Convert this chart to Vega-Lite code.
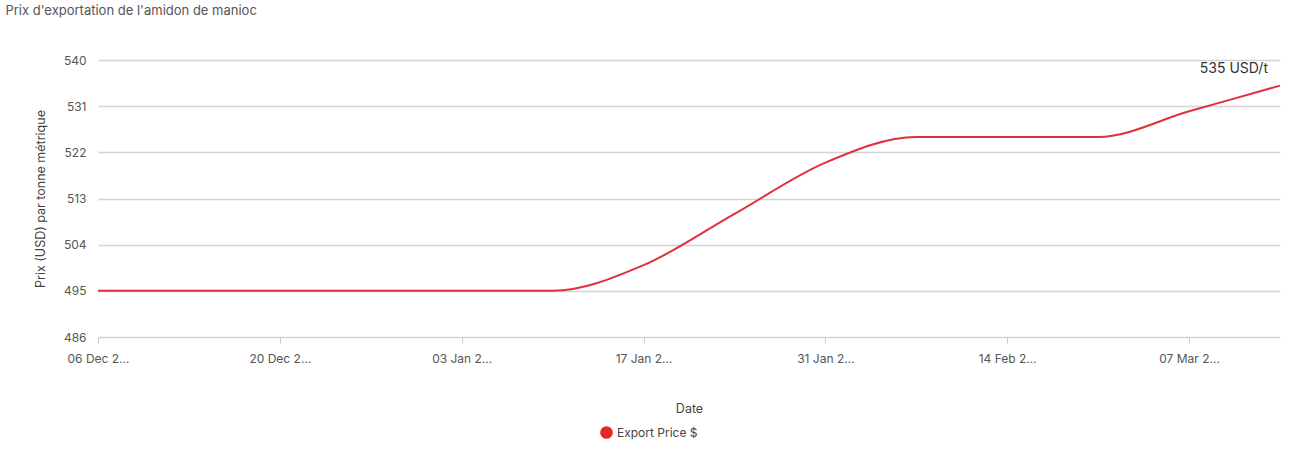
{
  "$schema": "https://vega.github.io/schema/vega-lite/v6.json",
  "width": 1182,
  "height": 277,
  "autosize": {"type": "none"},
  "padding": {"left": 98, "top": 60, "right": 14, "bottom": 135},
  "background": "white",
  "config": {
    "font": "Inter",
    "view": {"stroke": null}
  },
  "title": {
    "text": "Prix d'exportation de l'amidon de manioc",
    "anchor": "start",
    "dx": -29,
    "offset": 36,
    "fontSize": 13,
    "fontWeight": "normal",
    "color": "#555"
  },
  "data": {
    "values": [
      {"date": "06 Dec 2024", "price": 495, "series": "Export Price $"},
      {"date": "13 Dec 2024", "price": 495, "series": "Export Price $"},
      {"date": "20 Dec 2024", "price": 495, "series": "Export Price $"},
      {"date": "27 Dec 2024", "price": 495, "series": "Export Price $"},
      {"date": "03 Jan 2025", "price": 495, "series": "Export Price $"},
      {"date": "10 Jan 2025", "price": 495, "series": "Export Price $"},
      {"date": "17 Jan 2025", "price": 500, "series": "Export Price $"},
      {"date": "24 Jan 2025", "price": 510, "series": "Export Price $"},
      {"date": "31 Jan 2025", "price": 520, "series": "Export Price $"},
      {"date": "07 Feb 2025", "price": 525, "series": "Export Price $"},
      {"date": "14 Feb 2025", "price": 525, "series": "Export Price $"},
      {"date": "28 Feb 2025", "price": 525, "series": "Export Price $"},
      {"date": "07 Mar 2025", "price": 530, "series": "Export Price $"},
      {"date": "14 Mar 2025", "price": 535, "series": "Export Price $"}
    ]
  },
  "encoding": {
    "x": {
      "field": "date",
      "type": "ordinal",
      "sort": null,
      "scale": {"padding": 0},
      "axis": {
        "values": ["06 Dec 2024", "20 Dec 2024", "03 Jan 2025", "17 Jan 2025", "31 Jan 2025", "14 Feb 2025", "07 Mar 2025"],
        "labelAngle": 0,
        "labelLimit": 64,
        "labelFontSize": 12,
        "labelColor": "#555",
        "labelPadding": 10,
        "tickSize": 6,
        "tickColor": "#ccc",
        "domain": false,
        "grid": false,
        "title": "Date",
        "titleFontSize": 12.5,
        "titleFontWeight": "normal",
        "titleColor": "#444",
        "titlePadding": 38
      }
    },
    "y": {
      "field": "price",
      "type": "quantitative",
      "scale": {"domain": [486, 540], "nice": false, "zero": false},
      "axis": {
        "values": [486, 495, 504, 513, 522, 531, 540],
        "format": "d",
        "labelFontSize": 12,
        "labelColor": "#555",
        "labelPadding": 12,
        "ticks": false,
        "domain": false,
        "grid": true,
        "gridColor": "#d4d4d4",
        "gridWidth": 1.5,
        "title": "Prix (USD) par tonne métrique",
        "titleFontSize": 12.5,
        "titleFontWeight": "normal",
        "titleColor": "#444",
        "titlePadding": 16
      }
    }
  },
  "layer": [
    {
      "mark": {"type": "line", "interpolate": "monotone", "strokeWidth": 2},
      "encoding": {
        "color": {
          "field": "series",
          "type": "nominal",
          "scale": {"range": ["#e0313b"]},
          "legend": {
            "orient": "none",
            "legendX": 502,
            "legendY": 366,
            "direction": "horizontal",
            "title": null,
            "symbolType": "circle",
            "symbolSize": 160,
            "symbolFillColor": "#e02a2a",
            "symbolStrokeWidth": 0,
            "labelFontSize": 12,
            "labelColor": "#444",
            "labelOffset": 4
          }
        }
      }
    },
    {
      "transform": [
        {"filter": "datum.date == '14 Mar 2025'"},
        {"calculate": "format(datum.price, 'd') + ' USD/t'", "as": "label"}
      ],
      "mark": {"type": "text", "align": "right", "baseline": "bottom", "dx": -12, "dy": -10, "fontSize": 14, "color": "#333"},
      "encoding": {"text": {"field": "label"}}
    }
  ]
}
